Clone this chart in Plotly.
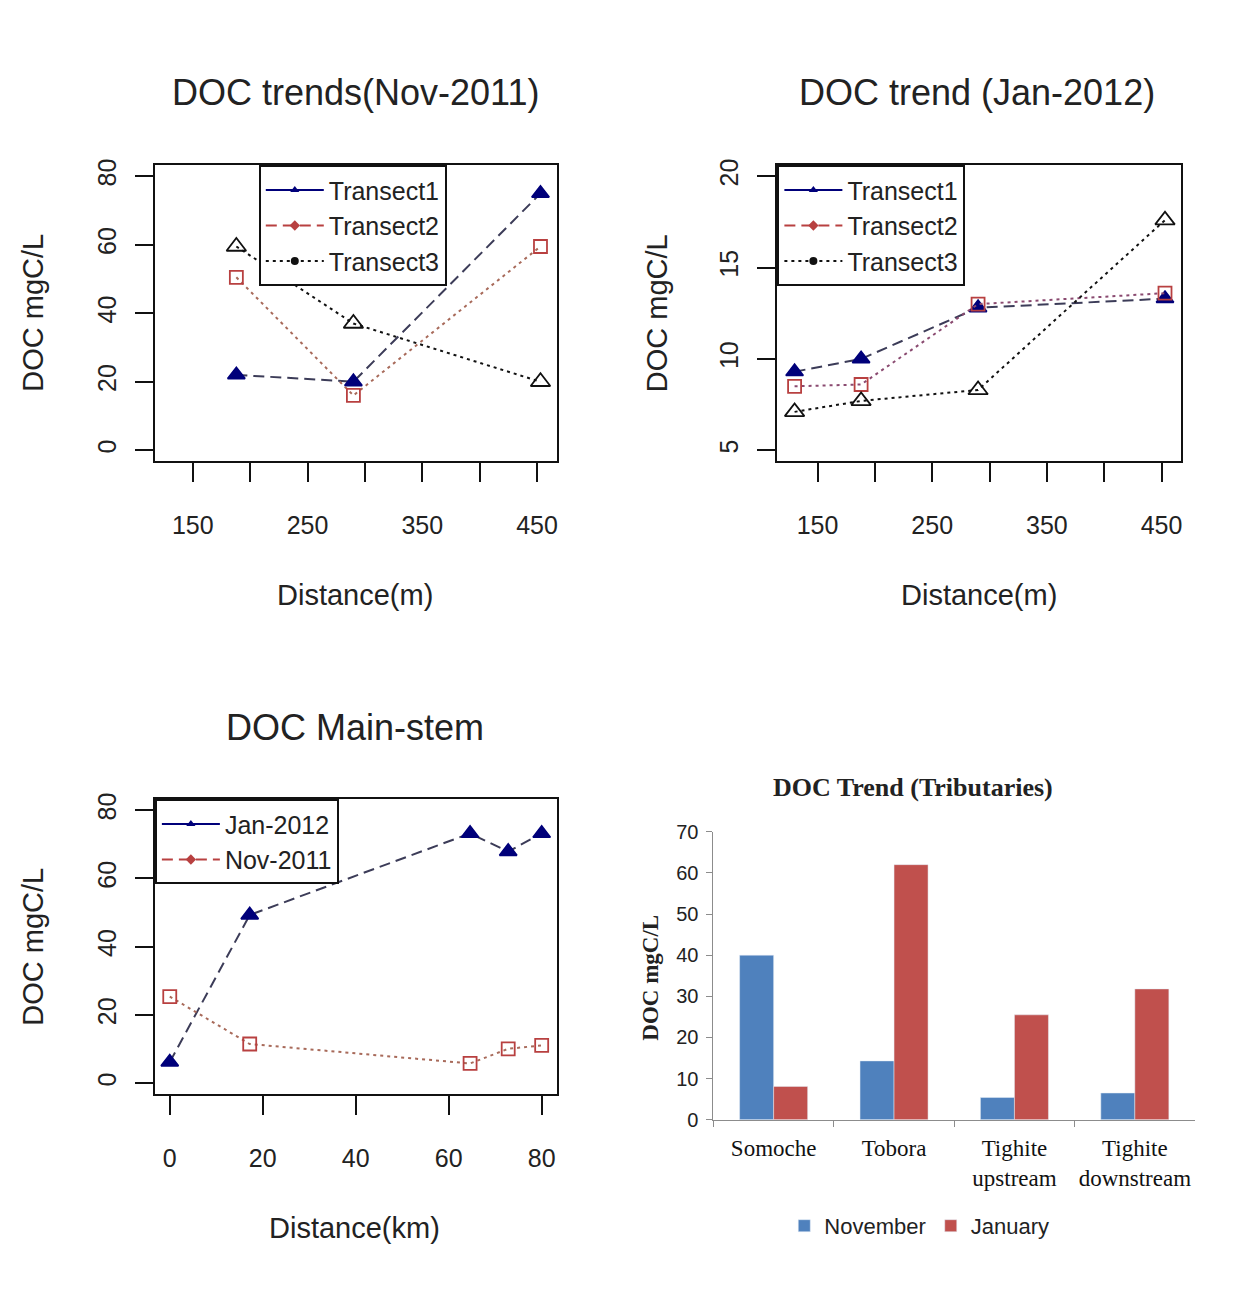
import plotly.graph_objects as go

W, H = 1255, 1289

# ---------------- data ----------------
nov_dist = [188, 290, 453]
nov_t1 = [22, 20, 75]
nov_t2 = [50.5, 16, 59.5]
nov_t3 = [59.5, 37, 20]

jan_dist = [130, 188, 290, 453]
jan_t1 = [9.3, 10.0, 12.8, 13.3]
jan_t2 = [8.5, 8.6, 13.0, 13.6]
jan_t3 = [7.1, 7.7, 8.3, 17.6]

main_km = [0, 17.2, 64.6, 72.8, 80]
main_jan = [6.2, 49.3, 73.2, 67.9, 73.2]
main_nov = [25.4, 11.5, 5.8, 10.1, 11.1]

tributaries = ["Somoche", "Tobora", "Tighite<br>upstream", "Tighite<br>downstream"]
trib_nov = [40, 14.3, 5.4, 6.5]
trib_jan = [8.1, 62, 25.5, 31.8]

dist_ticks = [150, 200, 250, 300, 350, 400, 450]
dist_ticktext = ["150", "", "250", "", "350", "", "450"]
km_ticks = [0, 20, 40, 60, 80]
doc_ticks = [0, 20, 40, 60, 80]
jan_doc_ticks = [5, 10, 15, 20]
trib_ticks = [0, 10, 20, 30, 40, 50, 60, 70]

# ---------------- helpers ----------------
def px_x(p):
    return p / W

def px_y(p):
    return 1 - p / H

SANS = "Liberation Sans, Arial, sans-serif"
SERIF = "Liberation Serif, Times New Roman, serif"
TXT = "#222222"

NAVY = "#00007a"
T1_LINE = "#3c3c58"
RED = "#b84040"
T2_LINE = "#a86a5a"
BLACK = "#111111"

DASH = "11px,6px"
DOT = "3px,4px"

fig = go.Figure()

def line_trace(x, y, xa, ya, line_col, dash, sym, mcol, msize, lw=2):
    fig.add_trace(go.Scatter(
        x=x, y=y, xaxis=xa, yaxis=ya, mode="lines+markers",
        line=dict(color=line_col, width=lw, dash=dash),
        marker=dict(symbol=sym, size=msize, color=mcol,
                    line=dict(color=mcol, width=1.8)),
        showlegend=False, hoverinfo="x+y"))

def legend_entry(name, legend, line_col, dash, sym, mcol):
    fig.add_trace(go.Scatter(
        x=[None], y=[None], mode="lines+markers", name=name, legend=legend,
        line=dict(color=line_col, width=2, dash=dash),
        marker=dict(symbol=sym, size=8, color=mcol),
        showlegend=True))

# ---- Plot 1: Nov-2011 ----
line_trace(nov_dist, nov_t1, "x", "y", T1_LINE, DASH, "triangle-up", NAVY, 15)
line_trace(nov_dist, nov_t2, "x", "y", T2_LINE, DOT, "square-open", RED, 13)
line_trace(nov_dist, nov_t3, "x", "y", BLACK, DOT, "triangle-up-open", BLACK, 17)
legend_entry("Transect1", "legend", NAVY, "solid", "triangle-up", NAVY)
legend_entry("Transect2", "legend", RED, DASH, "diamond", RED)
legend_entry("Transect3", "legend", BLACK, DOT, "circle", BLACK)

# ---- Plot 2: Jan-2012 ----
line_trace(jan_dist, jan_t1, "x2", "y2", T1_LINE, DASH, "triangle-up", NAVY, 15)
line_trace(jan_dist, jan_t2, "x2", "y2", "#8a4a70", DOT, "square-open", RED, 13)
line_trace(jan_dist, jan_t3, "x2", "y2", BLACK, DOT, "triangle-up-open", BLACK, 17)
legend_entry("Transect1", "legend2", NAVY, "solid", "triangle-up", NAVY)
legend_entry("Transect2", "legend2", RED, DASH, "diamond", RED)
legend_entry("Transect3", "legend2", BLACK, DOT, "circle", BLACK)

# ---- Plot 3: Main stem ----
line_trace(main_km, main_jan, "x3", "y3", T1_LINE, DASH, "triangle-up", NAVY, 15)
line_trace(main_km, main_nov, "x3", "y3", T2_LINE, DOT, "square-open", RED, 13)
legend_entry("Jan-2012", "legend3", NAVY, "solid", "triangle-up", NAVY)
legend_entry("Nov-2011", "legend3", RED, DASH, "diamond", RED)

# ---- Plot 4: Tributaries bars ----
fig.add_trace(go.Bar(x=tributaries, y=trib_nov, name="November", xaxis="x4", yaxis="y4",
                     marker=dict(color="#4f81bd"), legend="legend4"))
fig.add_trace(go.Bar(x=tributaries, y=trib_jan, name="January", xaxis="x4", yaxis="y4",
                     marker=dict(color="#c0504d"), legend="legend4"))

# ---------------- axes ----------------
def r_xaxis(domain, rng, tickvals, ticktext, anchor):
    return dict(domain=domain, range=rng, anchor=anchor, tickmode="array",
                tickvals=tickvals, ticktext=ticktext, ticks="outside", ticklen=19,
                tickwidth=2, tickcolor="#111", showline=True, linecolor="#111",
                linewidth=2, mirror=True, showgrid=False, zeroline=False,
                tickfont=dict(family=SANS, size=25, color=TXT), ticklabelstandoff=22)

def r_yaxis(domain, rng, tickvals, anchor):
    return dict(domain=domain, range=rng, anchor=anchor, tickmode="array",
                tickvals=tickvals, ticktext=[str(v) for v in tickvals], ticks="outside",
                ticklen=18, tickwidth=2, tickcolor="#111", showline=True, linecolor="#111",
                linewidth=2, mirror=True, showgrid=False, zeroline=False, tickangle=-90,
                tickfont=dict(family=SANS, size=25, color=TXT), ticklabelstandoff=9)

top_dom = [px_y(458), px_y(157)]
bot_dom = [px_y(1102), px_y(802)]

layout = dict(
    width=W, height=H, margin=dict(l=0, r=0, t=0, b=0),
    paper_bgcolor="white", plot_bgcolor="white",
    bargap=0.435, bargroupgap=0, barmode="group",
    xaxis=r_xaxis([px_x(155), px_x(557)], [117, 467], dist_ticks, dist_ticktext, "y"),
    yaxis=r_yaxis(top_dom, [-3.2, 83.2], doc_ticks, "x"),
    xaxis2=r_xaxis([px_x(778), px_x(1182)], [115, 467], dist_ticks, dist_ticktext, "y2"),
    yaxis2=r_yaxis(top_dom, [4.4, 20.6], jan_doc_ticks, "x2"),
    xaxis3=r_xaxis([px_x(155), px_x(557)], [-3.2, 83.2], km_ticks,
                   [str(v) for v in km_ticks], "y3"),
    yaxis3=r_yaxis(bot_dom, [-3.2, 83.2], doc_ticks, "x3"),
    xaxis4=dict(domain=[px_x(714), px_x(1196)], anchor="y4", type="category",
                showline=True, linecolor="#8c8c8c", linewidth=1, ticks="outside",
                tickson="boundaries", ticklen=6, tickcolor="#8c8c8c", showgrid=False,
                tickfont=dict(family=SERIF, size=23, color="#111"), ticklabelstandoff=8),
    yaxis4=dict(domain=[px_y(1128), px_y(835)], anchor="x4", range=[0, 70],
                tickmode="array", tickvals=trib_ticks,
                showline=True, linecolor="#8c8c8c", linewidth=1, ticks="outside",
                ticklen=6, tickcolor="#8c8c8c", showgrid=False, zeroline=False,
                tickfont=dict(family=SANS, size=20, color=TXT), ticklabelstandoff=4),
)

legend_common = dict(xref="paper", yref="paper", xanchor="left", yanchor="top",
                     bgcolor="white", bordercolor="#111", borderwidth=2,
                     font=dict(family=SANS, size=25, color=TXT), itemwidth=58,
                     tracegroupgap=0)
layout["legend"] = dict(legend_common, x=px_x(259), y=px_y(157))
layout["legend2"] = dict(legend_common, x=px_x(778), y=px_y(157))
layout["legend3"] = dict(legend_common, x=px_x(155), y=px_y(802))
layout["legend4"] = dict(xref="paper", yref="paper", x=px_x(920), y=px_y(1236),
                         xanchor="center", yanchor="middle", orientation="h",
                         font=dict(family=SANS, size=22, color=TXT), bgcolor="rgba(0,0,0,0)",
                         itemwidth=30)

fig.update_layout(**layout)

# ---------------- titles / axis titles ----------------
def ann(text, x, y, size, family=SANS, angle=0, bold=False):
    t = f"<b>{text}</b>" if bold else text
    fig.add_annotation(text=t, x=px_x(x), y=px_y(y), xref="paper", yref="paper",
                       showarrow=False, textangle=angle, xanchor="center", yanchor="middle",
                       font=dict(family=family, size=size, color=TXT))

ann("DOC trends(Nov-2011)", 356, 83, 36)
ann("DOC trend (Jan-2012)", 978, 83, 36)
ann("DOC Main-stem", 355, 729, 36)
ann("DOC Trend (Tributaries)", 914, 790, 26, family=SERIF, bold=True)

ann("Distance(m)", 355, 594, 29)
ann("Distance(m)", 980, 594, 29)
ann("Distance(km)", 355, 1238, 29)

ann("DOC mgC/L", 33, 307, 29, angle=-90)
ann("DOC mgC/L", 657, 307, 29, angle=-90)
ann("DOC mgC/L", 33, 952, 29, angle=-90)
ann("DOC mgC/L", 651, 983, 23, family=SERIF, angle=-90, bold=True)

fig.write_html("out.html")
